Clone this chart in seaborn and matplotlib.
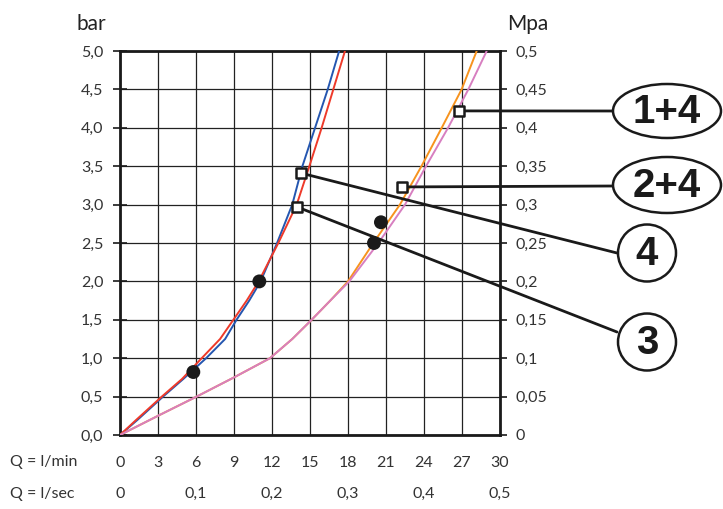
import pandas as pd
import matplotlib
matplotlib.use('Agg')
import matplotlib.pyplot as plt
import seaborn as sns
from matplotlib.patches import Ellipse, ConnectionPatch

# flow (l/min) vs pressure (bar) for each curve
pressure = [0, 0.2, 0.5, 0.73, 1.0, 1.25, 1.5, 1.75, 2.0, 2.5, 3.0, 3.5, 4.0, 4.5, 5.0]
blue_q = [0, 1.4, 3.4, 5.0, 6.8, 8.3, 9.2, 10.2, 11.1, 12.4, 13.6, 14.4, 15.4, 16.4, 17.3]
red_q = [0, 1.3, 3.3, 4.9, 6.45, 7.9, 8.95, 10.0, 10.95, 12.5, 13.95, 14.95, 15.92, 16.84, 17.76]

pressure2 = [0, 0.25, 0.5, 0.75, 1.0, 1.25, 1.5, 1.75, 2.0, 2.5, 3.0, 3.5, 4.0, 4.5, 5.0]
orange_q = [0, 3.0, 6.05, 9.0, 11.84, 13.6, 15.13, 16.6, 18.0, 20.0, 22.1, 23.8, 25.4, 26.97, 28.16]
pink_q = [0, 3.0, 6.05, 9.0, 11.84, 13.6, 15.13, 16.6, 18.1, 20.4, 22.5, 24.16, 25.9, 27.5, 28.95]

dots_q = [5.79, 11.0, 20.05, 20.6]
dots_p = [0.82, 2.0, 2.50, 2.77]

# callout markers
callout_labels = ['1+4', '2+4', '4', '3']
callout_q = [26.76, 22.24, 14.29, 13.97]
callout_p = [4.22, 3.23, 3.41, 2.97]

x_ticks = [0, 3, 6, 9, 12, 15, 18, 21, 24, 27, 30]
y_ticks = [0, 0.5, 1, 1.5, 2, 2.5, 3, 3.5, 4, 4.5, 5]
y_labels = ['0,0', '0,5', '1,0', '1,5', '2,0', '2,5', '3,0', '3,5', '4,0', '4,5', '5,0']
mpa_ticks = [0, 0.05, 0.1, 0.15, 0.2, 0.25, 0.3, 0.35, 0.4, 0.45, 0.5]
mpa_labels = ['0', '0,05', '0,1', '0,15', '0,2', '0,25', '0,3', '0,35', '0,4', '0,45', '0,5']
lsec_pos = [0, 6, 12, 18, 24, 30]
lsec_labels = ['0', '0,1', '0,2', '0,3', '0,4', '0,5']

sns.set_style('white')
plt.rcParams['font.family'] = ['Lato', 'DejaVu Sans']
txt = '#333333'

W, H = 723, 509
fig = plt.figure(figsize=(W / 100, H / 100), dpi=100)
fig.patch.set_facecolor('white')
ax = fig.add_axes([120 / W, 1 - 435 / H, 380 / W, 384 / H])
ax.patch.set_alpha(0)

curves = [(blue_q, pressure, '#2456b0'), (red_q, pressure, '#ee3a2a'),
          (orange_q, pressure2, '#f7931e'), (pink_q, pressure2, '#d77fc0')]
for q, p, c in curves:
    df = pd.DataFrame({'q': q, 'p': p})
    sns.lineplot(data=df, x='q', y='p', color=c, lw=1.4, sort=False, ax=ax, zorder=3)

sns.scatterplot(x=dots_q, y=dots_p, color='#1a1a1a', s=100, edgecolor='none', ax=ax, zorder=4)

ax.set_xlim(0, 30)
ax.set_ylim(0, 5)
ax.set_xticks(x_ticks)
ax.set_xticklabels([str(t) for t in x_ticks])
ax.set_yticks(y_ticks)
ax.set_yticklabels(y_labels)
ax.set_xlabel('')
ax.set_ylabel('')
ax.grid(True, color='#222222', lw=0.9)
for s in ax.spines.values():
    s.set_color('#1a1a1a')
    s.set_linewidth(2)
ax.tick_params(axis='both', direction='inout', length=10, width=1.2, color='#1a1a1a',
               labelsize=11.5, labelcolor=txt)
ax.tick_params(axis='y', pad=7)
ax.tick_params(axis='x', pad=10)

ax2 = ax.twinx()
ax2.set_ylim(0, 0.5)
ax2.set_yticks(mpa_ticks)
ax2.set_yticklabels(mpa_labels)
ax2.tick_params(axis='y', direction='out', length=5, width=1.2, color='#1a1a1a',
                labelsize=11.5, labelcolor=txt, pad=6)
for s in ax2.spines.values():
    s.set_visible(False)
ax2.grid(False)

fig.text(77 / W, 1 - 30 / H, 'bar', fontsize=15, color='#222222', ha='left', va='baseline')
fig.text(507 / W, 1 - 30 / H, 'Mpa', fontsize=15, color='#222222', ha='left', va='baseline')
fig.text(10 / W, 1 - 462 / H, 'Q = l/min', fontsize=11.5, color=txt, ha='left', va='center')
fig.text(10 / W, 1 - 494 / H, 'Q = l/sec', fontsize=11.5, color=txt, ha='left', va='center')
# l/sec row below the axis
for pos, lab in zip(lsec_pos, lsec_labels):
    ax.text(pos, -59 / 384, lab, transform=ax.get_xaxis_transform(), fontsize=11.5, color=txt,
            ha='center', va='center')

# overlay in pixel coordinates for callouts
ov = fig.add_axes([0, 0, 1, 1], zorder=5)
ov.set_xlim(0, W)
ov.set_ylim(H, 0)
ov.axis('off')
ov.patch.set_alpha(0)

bubbles = [(667, 111, 108, 54), (667, 185, 108, 56), (647, 253, 58, 57), (647, 342, 58, 57)]
ends = [(613, 111), (613, 186), (617, 253), (617, 332)]
for lab, mq, mp, (cx, cy, bw, bh), (ex, ey) in zip(callout_labels, callout_q, callout_p, bubbles, ends):
    con = ConnectionPatch(xyA=(mq, mp), coordsA=ax.transData, xyB=(ex, ey), coordsB=ov.transData,
                          color='#1a1a1a', lw=2)
    ov.add_artist(con)
    ov.add_patch(Ellipse((cx, cy), bw, bh, facecolor='white', edgecolor='#1a1a1a', lw=1.8))
    ov.text(cx, cy + 1, lab, fontsize=29, fontweight='bold', family='Liberation Sans',
            color='#1a1a1a', ha='center', va='center')
ov.scatter(callout_q, callout_p, transform=ax.transData, marker='s', s=55,
           facecolor='white', edgecolor='#1a1a1a', lw=1.8, zorder=6)

fig.savefig('out.png', dpi=100)
